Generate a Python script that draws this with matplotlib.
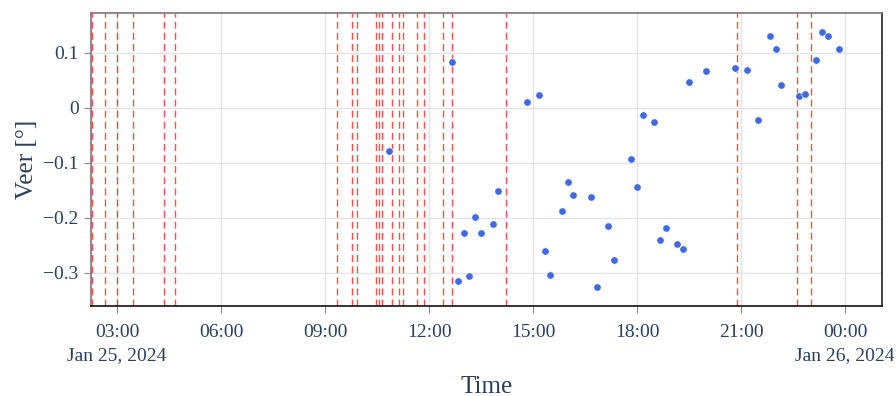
import numpy as np
import pandas as pd
import matplotlib
matplotlib.use("Agg")
from matplotlib import pyplot as plt
import matplotlib.dates as mdates
from matplotlib.ticker import FuncFormatter

plt.rcParams['font.family'] = ['Liberation Serif', 'DejaVu Serif']

day = "2024-01-25 "

# Veer measurements (10-min samples)
veer_times = ["10:50", "12:40", "12:50", "13:00", "13:10", "13:20", "13:30", "13:50",
              "14:00", "14:50", "15:10", "15:20", "15:30", "15:50", "16:00", "16:10",
              "16:40", "16:50", "17:10", "17:20", "17:50", "18:00", "18:10", "18:30",
              "18:40", "18:50", "19:10", "19:20", "19:30", "20:00", "20:50", "21:10",
              "21:30", "21:50", "22:00", "22:10", "22:40", "22:50", "23:10", "23:20",
              "23:30", "23:50"]
veer_values = [-0.078, 0.083, -0.314, -0.228, -0.305, -0.198, -0.228, -0.211,
               -0.151, 0.010, 0.024, -0.260, -0.304, -0.188, -0.134, -0.159,
               -0.162, -0.326, -0.214, -0.276, -0.092, -0.143, -0.013, -0.026,
               -0.240, -0.219, -0.248, -0.257, 0.047, 0.068, 0.073, 0.069,
               -0.021, 0.131, 0.107, 0.042, 0.021, 0.026, 0.088, 0.139,
               0.130, 0.108]

# event markers (vertical dashed lines)
event_times = ["02:17", "02:39", "03:00", "03:28", "04:22", "04:41", "09:21", "09:47",
               "09:55", "10:28", "10:33", "10:39", "10:56", "11:08", "11:15", "11:39",
               "11:51", "12:24", "12:39", "14:13", "20:53", "22:37", "23:01"]

t = pd.to_datetime([day + s for s in veer_times])
ev = pd.to_datetime([day + s for s in event_times])

text_col = "#2a3f5f"

fig = plt.figure(figsize=(8.96, 3.96), dpi=100)
ax = fig.add_axes([0.1016, 0.2273, 0.8828, 0.7399])

for e in ev:
    ax.axvline(e, color="red", alpha=0.7, linewidth=1.0, linestyle=(0, (5, 3)), zorder=2)

ax.scatter(t, veer_values, s=28, color="royalblue", edgecolors="white", linewidths=0.4, zorder=3)

ax.set_xlim(pd.Timestamp("2024-01-25 02:15"), pd.Timestamp("2024-01-26 01:04"))
ax.set_ylim(-0.36, 0.1727)
ax.set_yticks([-0.3, -0.2, -0.1, 0, 0.1])
ax.yaxis.set_major_formatter(FuncFormatter(lambda v, p: "0" if abs(v) < 1e-9 else "{:g}".format(v).replace("-", "\u2212")))

ax.xaxis.set_major_locator(mdates.HourLocator(byhour=range(0, 24, 3)))
def fmt_time(x, pos):
    d = mdates.num2date(x)
    s = d.strftime("%H:%M")
    if pos == 0 or d.hour == 0:
        s += "\n" + d.strftime("%b %d, %Y")
    return s
ax.xaxis.set_major_formatter(FuncFormatter(fmt_time))

ax.grid(True, color="#e3e3e3", linewidth=1, zorder=0)
ax.set_axisbelow(True)

ax.spines["left"].set_color("#777777")
ax.spines["top"].set_color("#777777")
ax.spines["right"].set_color("#222222")
ax.spines["bottom"].set_color("#111111")
for sp in ax.spines.values():
    sp.set_linewidth(1.2)

ax.tick_params(axis="both", direction="out", length=5, color="#888888",
               labelsize=14, labelcolor=text_col, pad=4)
ax.tick_params(axis="x", pad=8)
for lab in ax.get_xticklabels():
    lab.set_linespacing(1.5)

ax.set_xlabel("Time", fontsize=18, color=text_col, labelpad=8)
ax.set_ylabel("Veer [°]", fontsize=18, color=text_col, labelpad=4)

fig.savefig("out.png", dpi=100)
